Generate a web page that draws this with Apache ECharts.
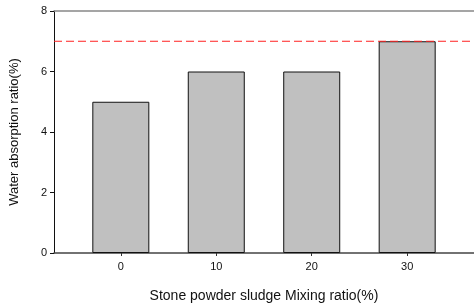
<!DOCTYPE html>
<html>
<head>
<meta charset="utf-8">
<script src="https://cdn.jsdelivr.net/npm/echarts@6/dist/echarts.min.js"></script>
<style>
  html, body { margin: 0; padding: 0; background: #fff; }
</style>
</head>
<body>
<div id="chart" style="width: 474px; height: 308px"></div>
<script>
// mixing ratio (%) and water absorption ratio (%)
const mixRatio = [0, 10, 20, 30];
const absorption = [5, 6, 6, 7];
const limitValue = 7;
const yTicks = [0, 2, 4, 6, 8];
const xMin = -7;
const xMax = 37;

const chart = echarts.init(document.getElementById("chart"));
chart.setOption({
  animation: false,
  textStyle: { fontFamily: "Liberation Sans, Arial, sans-serif" },
  grid: { left: 52, right: 0, top: 11, bottom: 50 },
  xAxis: [
    {
      type: "value",
      min: xMin,
      max: xMax,
      name: "Stone powder sludge Mixing ratio(%)",
      nameLocation: "middle",
      nameGap: 36,
      nameTextStyle: { fontSize: 14, color: "#111" },
      splitLine: { show: false },
      axisLine: { onZero: false, lineStyle: { color: "#444", width: 1.5 } },
      axisTick: { length: 3, lineStyle: { color: "#333" } },
      axisLabel: {
        fontSize: 11,
        color: "#111",
        margin: 8,
        showMinLabel: false,
        showMaxLabel: false,
        formatter: (v) => (mixRatio.includes(v) ? String(v) : ""),
      },
    },
    {
      type: "value",
      position: "top",
      min: xMin,
      max: xMax,
      splitLine: { show: false },
      axisLine: { onZero: false, lineStyle: { color: "#888", width: 1.5 } },
      axisTick: { show: false },
      axisLabel: { show: false },
    },
  ],
  yAxis: {
    type: "value",
    min: yTicks[0],
    max: yTicks[yTicks.length - 1],
    interval: 2,
    name: "Water absorption ratio(%)",
    nameLocation: "middle",
    nameGap: 33,
    nameTextStyle: { fontSize: 13, color: "#111" },
    splitLine: { show: false },
    axisLine: { show: true, onZero: false, lineStyle: { color: "#111", width: 1 } },
    axisTick: { length: 4, lineStyle: { color: "#111" } },
    axisLabel: { fontSize: 11, color: "#111", margin: 7 },
  },
  series: [
    {
      type: "bar",
      data: mixRatio.map((x, i) => [x, absorption[i]]),
      barWidth: 57,
      itemStyle: { color: "#c0c0c0", borderColor: "#111", borderWidth: 1 },
    },
    {
      // reference limit line across the whole plot
      type: "line",
      data: [[xMin, limitValue], [xMax, limitValue]],
      symbol: "none",
      silent: true,
      z: 5,
      lineStyle: { color: "#ff2020", type: [8, 4], width: 1 },
    },
  ],
});
</script>
</body>
</html>
